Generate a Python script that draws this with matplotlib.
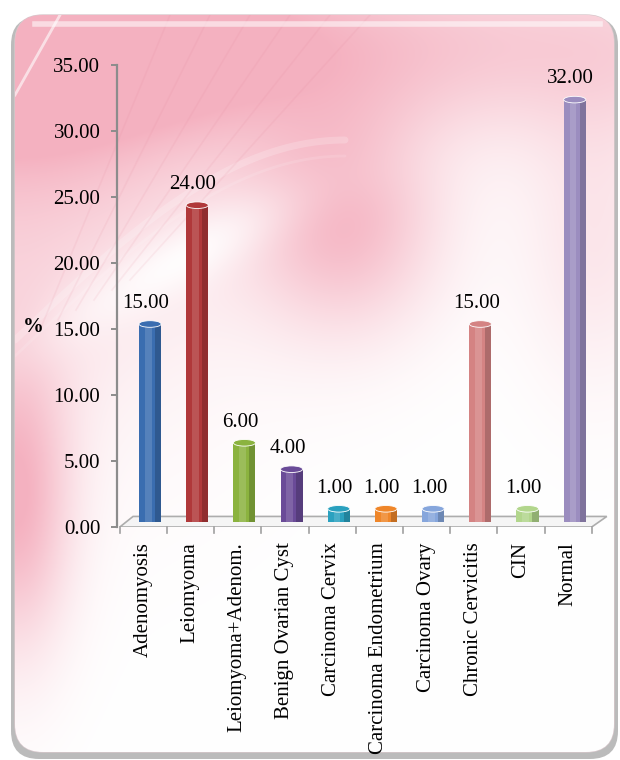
import numpy as np
import matplotlib
matplotlib.use("Agg")
import matplotlib.pyplot as plt
from matplotlib.patches import FancyBboxPatch, Ellipse, Polygon
from matplotlib.transforms import ScaledTranslation

categories = ["Adenomyosis", "Leiomyoma", "Leiomyoma+Adenom.", "Benign Ovarian Cyst",
              "Carcinoma Cervix", "Carcinoma Endometrium", "Carcinoma Ovary",
              "Chronic Cervicitis", "CIN", "Normal"]
values = [15.0, 24.0, 6.0, 4.0, 1.0, 1.0, 1.0, 15.0, 1.0, 32.0]
colors = ["#3a6db0", "#b0383a", "#8bb33f", "#6a4b98", "#2aa1bf",
          "#ef8629", "#86a6dc", "#d48383", "#b2d68c", "#9b8dbf"]
yticks = [0, 5, 10, 15, 20, 25, 30, 35]

W, H = 620, 760
fig = plt.figure(figsize=(W / 100, H / 100), dpi=100)
fig.patch.set_facecolor("white")

# background panel in pixel coords
bg = fig.add_axes([0, 0, 1, 1])
bg.set_xlim(0, W)
bg.set_ylim(H, 0)
bg.axis("off")

shadow = FancyBboxPatch((11, 17), 607, 742, boxstyle="round,pad=0,rounding_size=28",
                        facecolor="#8f8f8f", edgecolor="none", alpha=0.6)
bg.add_patch(shadow)
frame = FancyBboxPatch((15, 15), 599, 737, boxstyle="round,pad=0,rounding_size=28",
                       facecolor="white", edgecolor="#d8c8cc", linewidth=1.0)
bg.add_patch(frame)

# pink gradient
yy, xx = np.mgrid[0:1:400j, 0:1:330j]
w = 0.7 * np.exp(-((yy - 0.04) / 0.13) ** 2) * np.clip(1.15 - 0.5 * xx, 0, 1)
w += 0.75 * np.exp(-(xx / 0.38) ** 2 - (yy / 0.42) ** 2)
w += 0.65 * np.exp(-((xx - 0.55) / 0.16) ** 2 - ((yy - 0.28) / 0.15) ** 2)
w += 0.75 * np.exp(-(xx / 0.09) ** 2) * np.exp(-((yy - 0.66) / 0.2) ** 2)
w += 0.25 * np.exp(-((xx - 0.97) / 0.12) ** 2 - ((yy - 0.3) / 0.2) ** 2)
# bright diagonal swoosh
d = (yy - (0.46 - 0.55 * xx + 0.25 * xx ** 2))
w -= 0.25 * np.exp(-(d / 0.05) ** 2) * np.exp(-((xx - 0.3) / 0.25) ** 2)
w = np.clip(w, 0, 0.78)[..., None]
pink = np.array([242, 156, 175]) / 255.0
img = (1 - w) + w * pink
im = bg.imshow(img, extent=(15, 614, 752, 15), aspect="auto", zorder=1,
               interpolation="bilinear")
im.set_clip_path(frame)

t = np.linspace(0, 1, 200)
for a, al, lw in [(0.0, 0.2, 5), (16, 0.12, 2)]:
    sx = 15 + 330 * t
    sy = 340 + a - 200 * np.sin(t * np.pi / 2)
    ln, = bg.plot(sx, sy, color="white", alpha=al, lw=lw, zorder=2, solid_capstyle="round")
    ln.set_clip_path(frame)
for k in range(6):
    ln, = bg.plot([40 + 18 * k, 170 + 40 * k], [330 - 10 * k, 15], color="#e07f94",
                  alpha=0.1, lw=1.2, zorder=2)
    ln.set_clip_path(frame)
ln, = bg.plot([15, 60], [95, 15], color="white", alpha=0.6, lw=2, zorder=2)
ln.set_clip_path(frame)
ln, = bg.plot([35, 600], [24, 24], color="white", alpha=0.55, lw=4, zorder=2)
ln.set_clip_path(frame)

# plotting axes
ax = fig.add_axes([117 / W, (H - 527) / H, 495 / W, 462 / H])
ax.patch.set_alpha(0)
x = np.arange(len(categories))
ax.set_xlim(-0.70, 9.79)
ax.set_ylim(0, 35)

# floor
floor = Polygon([(-0.64, 0), (9.36, 0), (9.68, 0.8), (-0.36, 0.8)], closed=True,
                facecolor="#f4f4f4", edgecolor="#a0a0a0", lw=1.2, alpha=0.85, zorder=2)
ax.add_patch(floor)
for i in range(len(categories) + 1):
    ax.plot([i - 0.64, i - 0.64], [0, -0.45], color="#a0a0a0", lw=1.2, clip_on=False, zorder=2)

up = ScaledTranslation(0, 5 / 100, fig.dpi_scale_trans)
bw = 0.47
bars = ax.bar(x, values, width=bw, color=colors, zorder=3)
for b in bars:
    b.set_transform(ax.transData + up)
sh_dark = ax.bar(x + bw * 0.36, values, width=bw * 0.28, color="black", alpha=0.18, zorder=4)
sh_light = ax.bar(x - bw * 0.08, values, width=bw * 0.3, color="white", alpha=0.14, zorder=4)
for b in list(sh_dark) + list(sh_light):
    b.set_transform(ax.transData + up)
for xi, v, c in zip(x, values, colors):
    cap = Ellipse((xi, v), bw, 0.5, facecolor=c, edgecolor="white", lw=0.6,
                  zorder=5, transform=ax.transData + up)
    ax.add_patch(cap)
    ax.annotate(f"{v:.2f}", (xi, v), xytext=(-3, 18.5), textcoords="offset points",
                ha="center", va="center", fontsize=15, family="Liberation Serif",
                color="black", zorder=6)

for s in ["top", "right", "bottom"]:
    ax.spines[s].set_visible(False)
ax.spines["left"].set_color("#8c8c8c")
ax.spines["left"].set_linewidth(1.6)
ax.set_yticks(yticks)
ax.set_yticklabels([f"{v:.2f}" for v in yticks], family="Liberation Serif", fontsize=15)
ax.tick_params(axis="y", length=4, width=1.4, color="#8c8c8c", pad=8)
ax.set_xticks(x - 0.15)
ax.set_xticklabels(categories, rotation=90, family="Liberation Serif", fontsize=15,
                   va="top", ha="center")
ax.tick_params(axis="x", length=0, pad=11)

fig.text(33 / W, 1 - 327 / H, "%", family="Liberation Serif", fontsize=15,
         fontweight="bold", ha="center", va="center")

fig.savefig("out.png", dpi=100)
